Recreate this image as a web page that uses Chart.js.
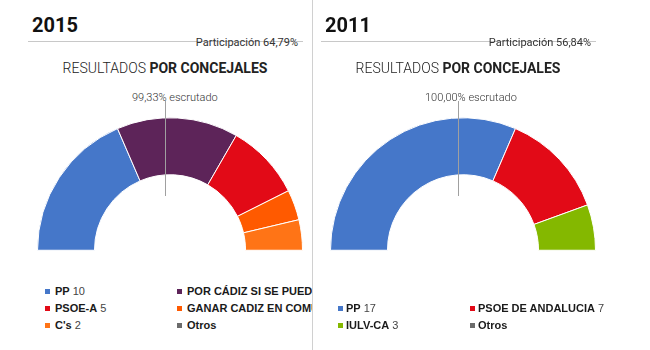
<!DOCTYPE html>
<html><head><meta charset="utf-8">
<script src="https://cdn.jsdelivr.net/npm/chart.js@4/dist/chart.umd.min.js"></script>
<style>
html,body{margin:0;padding:0;background:#fff;width:650px;height:350px;overflow:hidden;}
.panel{position:absolute;top:0;height:350px;overflow:hidden;}
.abs{position:absolute;white-space:nowrap;}
.year{font-family:Roboto,sans-serif;font-weight:700;font-size:20px;line-height:20px;color:#111;}
.rule{background:#c8c8c8;height:1px;}
.part{font-family:Roboto,sans-serif;font-size:11px;line-height:11px;color:#333;text-align:right;}
.res{font-family:Roboto,sans-serif;font-weight:300;font-size:14px;line-height:14px;color:#222;text-align:center;}
.res b{font-weight:700;}
.escr{font-family:Roboto,sans-serif;font-weight:300;font-size:11px;line-height:11px;color:#333;}
.tick{background:#a0a0a0;width:1px;z-index:5;}
.leg{font-family:"Liberation Sans",Arial,sans-serif;font-size:11px;line-height:17px;height:17px;}
.leg b{color:#1a1a1a;}
.leg span.v{color:#444;}
.sq{position:absolute;width:5px;height:5px;top:6px;left:0;}
#divider{position:absolute;left:312px;top:0;width:1px;height:350px;background:#d0d0d0;}
</style></head><body>
<div id="divider"></div>
<script>
// ---- data ----
const years = ['2015', '2011'];
const participation = ['Participación 64,79%', 'Participación 56,84%'];
const scrutinized = ['99,33% escrutado', '100,00% escrutado'];

const parties2015 = ['PP', 'POR CÁDIZ SI SE PUEDE', 'PSOE-A', 'GANAR CADIZ EN COMUN', "C's", 'Otros'];
const seats2015   = [10, 8, 5, 2, 2, null];
const colors2015  = ['#4577c9', '#5d2459', '#e20a17', '#ff5a00', '#ff7416', '#6b6b6b'];

const parties2011 = ['PP', 'PSOE DE ANDALUCIA', 'IULV-CA', 'Otros'];
const seats2011   = [17, 7, 3, null];
const colors2011  = ['#4577c9', '#e20a17', '#84b800', '#6b6b6b'];

const panels = [
  {year: years[0], part: participation[0], escr: scrutinized[0], parties: parties2015, seats: seats2015, colors: colors2015, offset: 0, width: 312},
  {year: years[1], part: participation[1], escr: scrutinized[1], parties: parties2011, seats: seats2011, colors: colors2011, offset: 293, width: 357}
];

function el(parent, cls, css, html) {
  const d = document.createElement('div');
  d.className = cls;
  Object.assign(d.style, css);
  if (html !== undefined) d.innerHTML = html;
  parent.appendChild(d);
  return d;
}

panels.forEach((p, idx) => {
  const panel = el(document.body, 'panel', {left: p.offset + 'px', width: p.width + 'px'});
  el(panel, 'abs year', {left: '32px', top: '15px'}, p.year);
  el(panel, 'abs rule', {left: '28px', top: '41px', width: '275px'});
  el(panel, 'abs part', {left: '0px', top: '37px', width: '298px'}, p.part);
  el(panel, 'abs res', {left: '0px', top: '61px', width: '330px'}, 'RESULTADOS <b>POR CONCEJALES</b>');
  el(panel, 'abs escr', {left: '132px', top: '92px'}, p.escr);

  const cv = document.createElement('canvas');
  cv.width = 266; cv.height = 134;
  Object.assign(cv.style, {position: 'absolute', left: '37px', top: '117px', width: '266px', height: '134px'});
  panel.appendChild(cv);
  el(panel, 'abs tick', {left: '165px', top: '101px', height: '95px'});

  new Chart(cv, {
    type: 'doughnut',
    data: {
      labels: p.parties,
      datasets: [{
        data: p.seats.map(v => v === null ? 0 : v),
        backgroundColor: p.colors,
        borderColor: '#ffffff',
        borderWidth: 1
      }]
    },
    options: {
      responsive: false,
      maintainAspectRatio: false,
      animation: false,
      rotation: -90,
      circumference: 180,
      cutout: '57%',
      layout: {padding: 0},
      plugins: {legend: {display: false}, tooltip: {enabled: false}}
    }
  });

  // legend (2 columns, bottom aligned at same last row)
  const rows = Math.ceil(p.parties.length / 2);
  const lastTop = 317;
  p.parties.forEach((name, i) => {
    const r = Math.floor(i / 2), c = i % 2;
    const top = lastTop - (rows - 1 - r) * 17;
    const left = (idx === 0 ? 45 : 45) + c * 132;
    const val = p.seats[i] === null ? '' : ' <span class="v">' + p.seats[i] + '</span>';
    const item = el(panel, 'abs leg', {left: left + 'px', top: top + 'px'});
    const sq = el(item, 'sq', {background: p.colors[i]});
    const t = el(item, 'abs', {left: (idx === 0 ? 10 : 8) + 'px', top: '0px'}, '<b>' + name + '</b>' + val);
  });
});
</script>
</body></html>
